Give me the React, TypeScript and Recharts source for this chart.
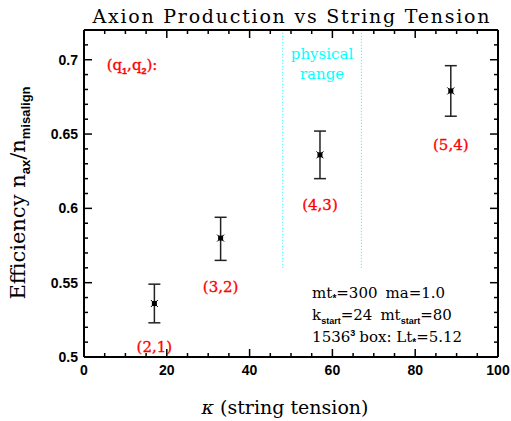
import React from "react";
import { ComposedChart, Scatter, ErrorBar, XAxis, YAxis, ReferenceLine, ReferenceDot } from "recharts";

// kappa (string tension) for each (q1,q2) string configuration
const kappa = [17, 33, 57, 88.6];
const efficiency = [0.536, 0.58, 0.636, 0.679];
const errDown = [0.013, 0.015, 0.016, 0.017];
const errUp = [0.013, 0.014, 0.016, 0.017];
const pairLabels = ["(2,1)", "(3,2)", "(4,3)", "(5,4)"];
const pairLabelY = [0.507, 0.547, 0.602, 0.6425];

const physicalRange = [48, 67];
const physicalRangeBottom = 0.56;

const xTicks = [0, 5, 10, 15, 20, 25, 30, 35, 40, 45, 50, 55, 60, 65, 70, 75, 80, 85, 90, 95, 100];
const yTicks = [
  0.5, 0.51, 0.52, 0.53, 0.54, 0.55, 0.56, 0.57, 0.58, 0.59, 0.6, 0.61,
  0.62, 0.63, 0.64, 0.65, 0.66, 0.67, 0.68, 0.69, 0.7, 0.71, 0.72,
];
const yTickLabels: Record<string, string> = { "0.5": "0.5", "0.55": "0.55", "0.6": "0.6", "0.65": "0.65", "0.7": "0.7" };

const points = kappa.map((k, i) => ({ x: k, y: efficiency[i], err: [errDown[i], errUp[i]] }));
const labelPoints = kappa.map((k, i) => ({ x: k, y: pairLabelY[i], text: pairLabels[i] }));

const SERIF = "'DejaVu Serif', serif";
const SANS = "'Liberation Sans', Arial, sans-serif";
const RED = "#ff0000";
const CYAN = "#00ffff";

const isMajorX = (v: number) => v % 20 === 0;
const isMajorY = (v: number) => Math.abs(v * 20 - Math.round(v * 20)) < 1e-6;

const BottomTick = (props: any) => {
  const { x, y, payload } = props;
  const major = isMajorX(payload.value);
  return (
    <g>
      <line x1={x} x2={x} y1={y} y2={y - (major ? 8 : 4)} stroke="#000" strokeWidth={1.5} />
      {major && (
        <text x={x} y={y + 18} textAnchor="middle" fontFamily={SANS} fontWeight="bold" fontSize={14} fill="#000">
          {payload.value}
        </text>
      )}
    </g>
  );
};

const TopTick = (props: any) => {
  const { x, y, payload } = props;
  const major = isMajorX(payload.value);
  return <line x1={x} x2={x} y1={y} y2={y + (major ? 8 : 4)} stroke="#000" strokeWidth={1.5} />;
};

const LeftTick = (props: any) => {
  const { x, y, payload } = props;
  const major = isMajorY(payload.value);
  const label = yTickLabels[String(payload.value)];
  return (
    <g>
      <line x1={x} x2={x + (major ? 8 : 4)} y1={y} y2={y} stroke="#000" strokeWidth={1.5} />
      {major && label && (
        <text x={x - 6} y={y + 5} textAnchor="end" fontFamily={SANS} fontWeight="bold" fontSize={14} fill="#000">
          {label}
        </text>
      )}
    </g>
  );
};

const RightTick = (props: any) => {
  const { x, y, payload } = props;
  const major = isMajorY(payload.value);
  return <line x1={x} x2={x - (major ? 8 : 4)} y1={y} y2={y} stroke="#000" strokeWidth={1.5} />;
};

const Marker = (props: any) => {
  const { cx, cy } = props;
  return (
    <g>
      <rect x={cx - 2.5} y={cy - 2.5} width={5} height={5} fill="#000" />
      <line x1={cx - 3.5} y1={cy - 3.5} x2={cx + 3.5} y2={cy + 3.5} stroke="#000" strokeWidth={1} />
      <line x1={cx - 3.5} y1={cy + 3.5} x2={cx + 3.5} y2={cy - 3.5} stroke="#000" strokeWidth={1} />
    </g>
  );
};

const PairLabel = (props: any) => {
  const { cx, cy, payload } = props;
  return (
    <text x={cx} y={cy + 5} textAnchor="middle" fontFamily={SERIF} fontSize={15} fill={RED} stroke={RED} strokeWidth={0.3}>
      {payload.text}
    </text>
  );
};

const SUB = { fontFamily: SANS, fontWeight: "bold" as const };

const QLabel = (props: any) => (
  <text x={props.cx} y={props.cy} textAnchor="middle" fontFamily={SERIF} fontSize={15} fill={RED} stroke={RED} strokeWidth={0.3}>
    (q<tspan dy={4} {...SUB} fontSize={9}>1</tspan>
    <tspan dy={-4}>,q</tspan>
    <tspan dy={4} {...SUB} fontSize={9}>2</tspan>
    <tspan dy={-4}>):</tspan>
  </text>
);

const PhysicalLabel = (props: any) => (
  <g fontFamily={SERIF} fontSize={15} fill={CYAN} textAnchor="middle">
    <text x={props.cx} y={props.cy}>physical</text>
    <text x={props.cx} y={props.cy + 20}>range</text>
  </g>
);

const InfoLabel = (props: any) => {
  const { cx, cy } = props;
  return (
    <g fontFamily={SERIF} fontSize={15} fill="#000">
      <text x={cx} y={cy}>
        mt<tspan dy={4} {...SUB} fontSize={10}>*</tspan>
        <tspan dy={-4}>=300</tspan>
        <tspan dx={8}>ma=1.0</tspan>
      </text>
      <text x={cx} y={cy + 22}>
        k<tspan dy={4} {...SUB} fontSize={9}>start</tspan>
        <tspan dy={-4}>=24</tspan>
        <tspan dx={8}>mt</tspan>
        <tspan dy={4} {...SUB} fontSize={9}>start</tspan>
        <tspan dy={-4}>=80</tspan>
      </text>
      <text x={cx} y={cy + 44}>
        1536<tspan dy={-6} {...SUB} fontSize={9}>3</tspan>
        <tspan dy={6} dx={4}>box: Lt</tspan>
        <tspan dy={4} {...SUB} fontSize={10}>*</tspan>
        <tspan dy={-4}>=5.12</tspan>
      </text>
    </g>
  );
};

export default function App() {
  return (
    <div style={{ position: "absolute", left: 0, top: 0, width: 511, height: 421, background: "#fff" }}>
      <svg width={511} height={421} style={{ position: "absolute", left: 0, top: 0 }}>
        <text x={291} y={23} textAnchor="middle" fontFamily={SERIF} fontSize={19} textLength={397} lengthAdjust="spacing">
          Axion Production vs String Tension
        </text>
        <text x={285} y={414} textAnchor="middle" fontFamily={SERIF} fontSize={19}>
          <tspan fontStyle="italic">κ</tspan> (string tension)
        </text>
        <text transform="translate(25,193) rotate(-90)" textAnchor="middle" fontFamily={SERIF} fontSize={21}>
          Efficiency n
          <tspan dy={5} {...SUB} fontSize={13}>ax</tspan>
          <tspan dy={-5}>/n</tspan>
          <tspan dy={5} {...SUB} fontSize={13}>misalign</tspan>
        </text>
      </svg>
      <ComposedChart width={511} height={421} margin={{ top: 0, right: 0, bottom: 0, left: 0 }} style={{ position: "absolute", left: 0, top: 0 }}>
        <XAxis
          type="number" dataKey="x" domain={[0, 100]} ticks={xTicks} interval={0} allowDataOverflow
          height={64} tickSize={0} tickMargin={0} tickLine={false} tick={<BottomTick />}
          axisLine={{ stroke: "#000", strokeWidth: 2 }}
        />
        <XAxis
          xAxisId="top" orientation="top" type="number" dataKey="x" domain={[0, 100]} ticks={xTicks} interval={0} allowDataOverflow
          height={30} tickSize={0} tickMargin={0} tickLine={false} tick={<TopTick />}
          axisLine={{ stroke: "#000", strokeWidth: 2 }}
        />
        <YAxis
          type="number" dataKey="y" domain={[0.5, 0.72]} ticks={yTicks} interval={0} allowDataOverflow
          width={84} tickSize={0} tickMargin={0} tickLine={false} tick={<LeftTick />}
          axisLine={{ stroke: "#000", strokeWidth: 2 }}
        />
        <YAxis
          yAxisId="right" orientation="right" type="number" dataKey="y" domain={[0.5, 0.72]} ticks={yTicks} interval={0} allowDataOverflow
          width={13} tickSize={0} tickMargin={0} tickLine={false} tick={<RightTick />}
          axisLine={{ stroke: "#000", strokeWidth: 2 }}
        />
        {physicalRange.map((xv) => (
          <ReferenceLine
            key={xv}
            segment={[{ x: xv, y: physicalRangeBottom }, { x: xv, y: 0.72 }]}
            stroke={CYAN} strokeWidth={1} strokeDasharray="1 2"
          />
        ))}
        <ReferenceDot x={11.6} y={0.6929} r={0} shape={<QLabel />} />
        <ReferenceDot x={57.5} y={0.7003} r={0} shape={<PhysicalLabel />} />
        <ReferenceDot x={55.1} y={0.5397} r={0} shape={<InfoLabel />} />
        <Scatter data={labelPoints} dataKey="y" shape={<PairLabel />} isAnimationActive={false} />
        <Scatter data={points} dataKey="y" shape={<Marker />} isAnimationActive={false}>
          <ErrorBar dataKey="err" direction="y" width={6} stroke="#222" strokeWidth={1.5} />
        </Scatter>
      </ComposedChart>
    </div>
  );
}
